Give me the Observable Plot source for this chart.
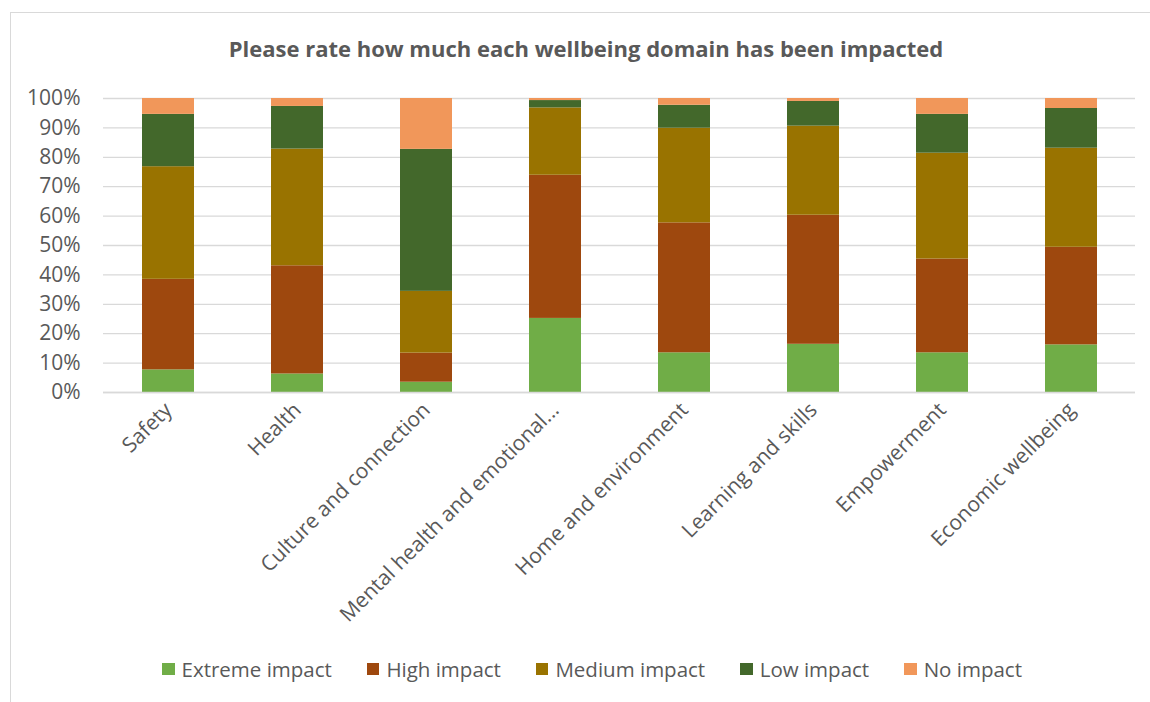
<!DOCTYPE html>
<html>
<head>
<meta charset="utf-8">
<script src="https://cdn.jsdelivr.net/npm/d3@7"></script>
<script src="https://cdn.jsdelivr.net/npm/@observablehq/plot@0.6"></script>
<style>
  html, body { margin: 0; padding: 0; background: #fff; }
  body { width: 1150px; height: 702px; position: relative; overflow: hidden; font-family: "Open Sans", sans-serif; }
  #frame { position: absolute; left: 10px; top: 12px; width: 1160px; height: 720px; border: 1px solid #d9d9d9; box-sizing: border-box; }
  #title { position: absolute; left: 11px; top: 0; width: 1150px; height: 76px; line-height: 96px; text-align: center; font-weight: bold; font-size: 22px; color: #595959; }
  #chart { position: absolute; left: 0; top: 76px; }
  #legend { position: absolute; left: 17px; top: 655px; width: 1150px; display: flex; justify-content: center; gap: 35px; font-size: 20.5px; color: #595959; }
  .item { display: flex; align-items: center; }
  .sw { width: 12.5px; height: 12.5px; margin-right: 7px; display: inline-block; }
  #chart svg text { font-size: 21px; }
</style>
</head>
<body>
<div id="frame"></div>
<div id="title">Please rate how much each wellbeing domain has been impacted</div>
<div id="chart"></div>
<div id="legend"></div>
<script>
const categories = ["Safety", "Health", "Culture and connection", "Mental health and emotional wellbeing", "Home and environment", "Learning and skills", "Empowerment", "Economic wellbeing"];
const tickLabels = ["Safety", "Health", "Culture and connection", "Mental health and emotional...", "Home and environment", "Learning and skills", "Empowerment", "Economic wellbeing"];
const series = ["Extreme impact", "High impact", "Medium impact", "Low impact", "No impact"];
const colors = ["#70ad47", "#9e480e", "#997300", "#43682b", "#f1975a"];
const extreme = [7.7, 6.3, 3.5, 25.2, 13.5, 16.4, 13.5, 16.2];
const high = [30.8, 36.8, 9.9, 48.7, 44.2, 43.9, 31.9, 33.2];
const medium = [38.3, 39.7, 21.0, 22.9, 32.2, 30.3, 36.0, 33.7];
const low = [17.8, 14.5, 48.3, 2.5, 7.8, 8.4, 13.2, 13.5];
const none = [5.4, 2.7, 17.3, 0.7, 2.3, 1.0, 5.4, 3.4];
const yTicks = [0, 10, 20, 30, 40, 50, 60, 70, 80, 90, 100];

const seriesValues = [extreme, high, medium, low, none];
const data = [];
series.forEach((s, i) => {
  categories.forEach((c, j) => data.push({category: c, series: s, value: seriesValues[i][j]}));
});

const chart = Plot.plot({
  width: 1150,
  height: 560,
  marginLeft: 103,
  marginRight: 15,
  marginTop: 22,
  marginBottom: 244,
  style: {fontFamily: "Open Sans, sans-serif", fontSize: "21px", color: "#595959", background: "transparent", overflow: "visible"},
  x: {domain: categories, paddingInner: 0.6, paddingOuter: 0.3, label: null, tickSize: 0, tickRotate: -45, tickPadding: 14,
      tickFormat: d => tickLabels[categories.indexOf(d)]},
  y: {domain: [0, 100], ticks: yTicks, tickFormat: d => d + "%", label: null, tickSize: 0, tickPadding: 23},
  color: {domain: series, range: colors},
  marks: [
    Plot.gridY(yTicks, {stroke: "#d9d9d9", strokeOpacity: 1, strokeWidth: 1.3}),
    Plot.barY(data, {x: "category", y: "value", fill: "series", order: null}),
    Plot.ruleY([0], {stroke: "#d9d9d9", strokeWidth: 1.3})
  ]
});
document.getElementById("chart").appendChild(chart);

const legend = document.getElementById("legend");
series.forEach((s, i) => {
  const it = document.createElement("div");
  it.className = "item";
  const sw = document.createElement("span");
  sw.className = "sw";
  sw.style.background = colors[i];
  it.appendChild(sw);
  it.appendChild(document.createTextNode(s));
  legend.appendChild(it);
});
</script>
</body>
</html>
